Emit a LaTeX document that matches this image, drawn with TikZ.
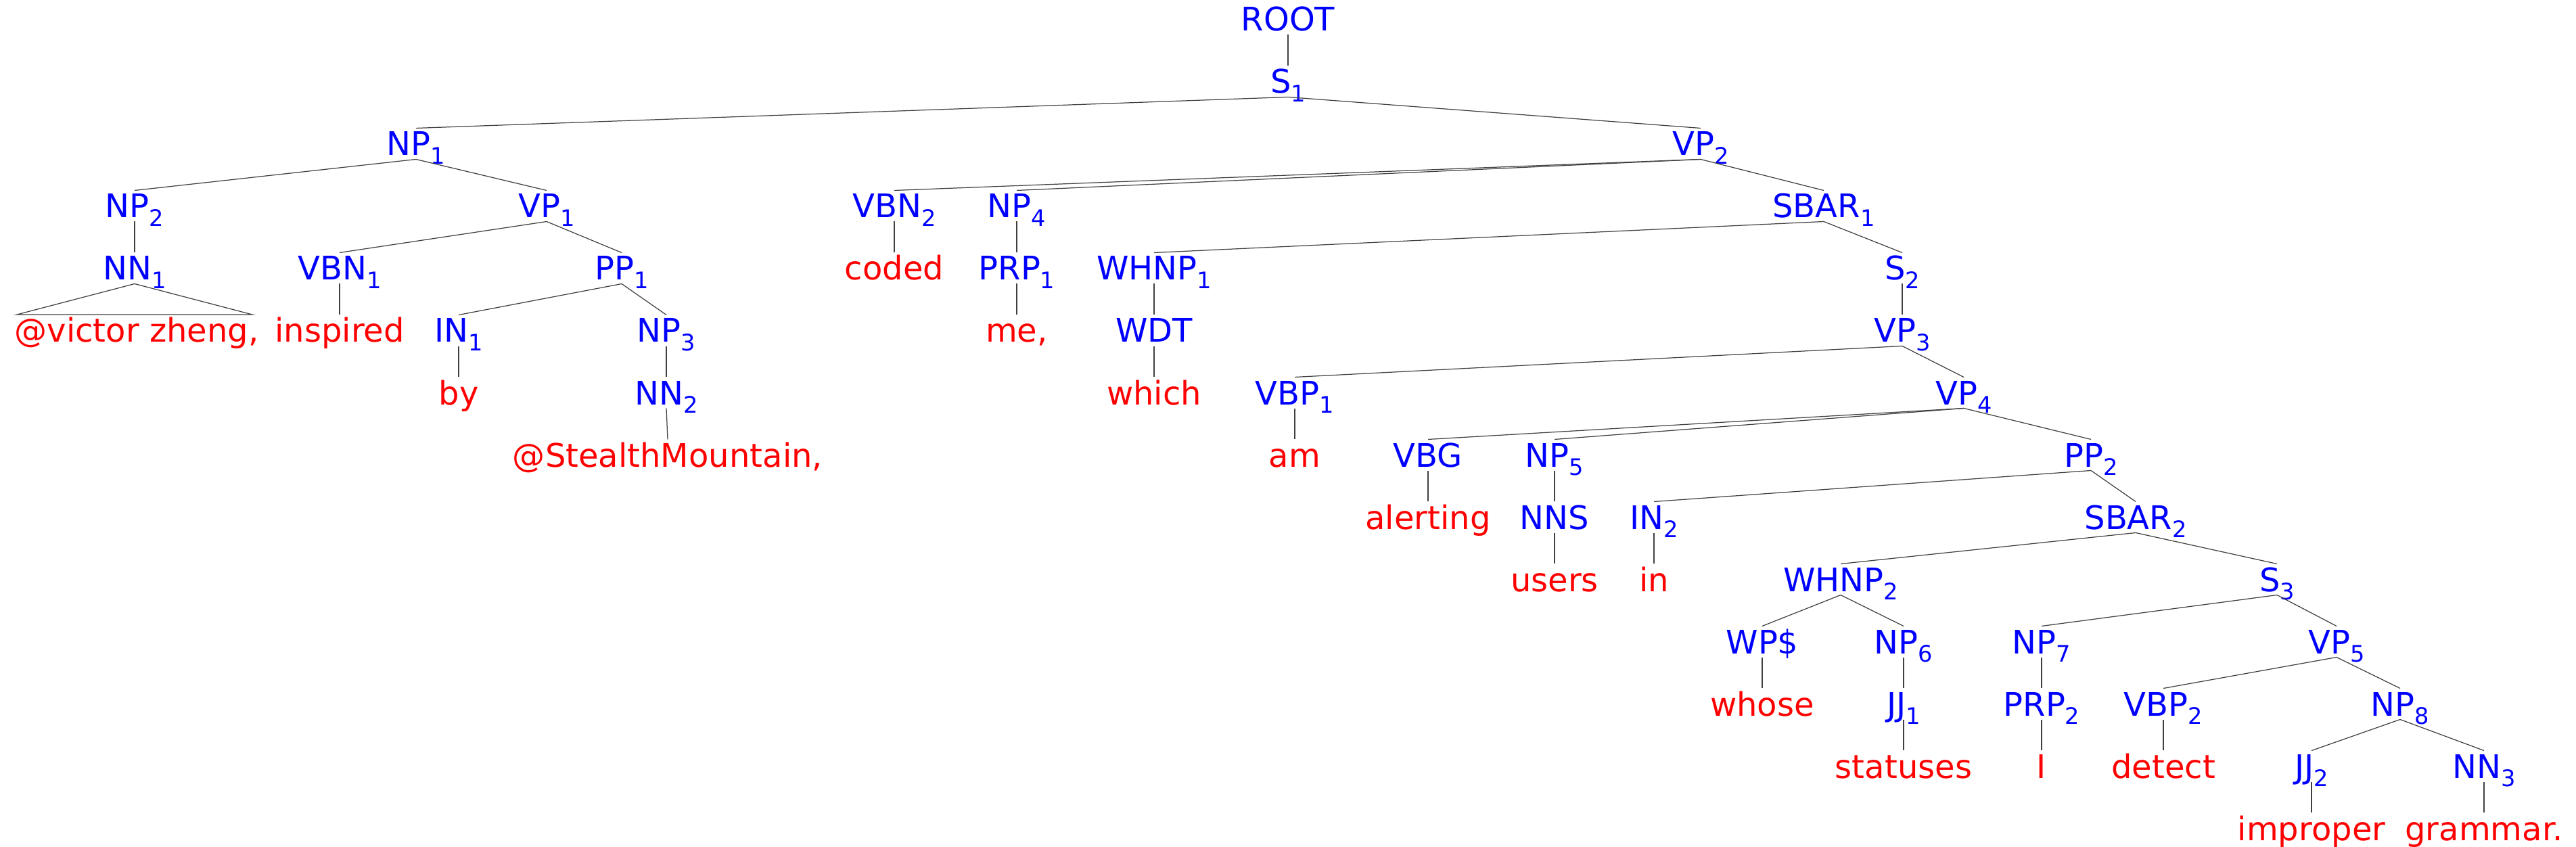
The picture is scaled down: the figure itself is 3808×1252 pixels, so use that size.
\documentclass[tikz,border=0pt]{standalone}
\usepackage{fontspec}
\setmainfont{DejaVu Sans}
\newcommand\subx[1]{\raisebox{-0.25em}{\fontsize{9.56pt}{10pt}\selectfont #1}}
\begin{document}
\begin{tikzpicture}[x=0.01cm,y=-0.01cm,
  lbl/.style={inner sep=0pt,outer xsep=0pt,outer ysep=0.055cm,text height=0.35cm,text depth=0pt,anchor=base,font=\fontsize{13.66pt}{16pt}\selectfont},
  cat/.style={lbl,text=blue},
  wrd/.style={lbl,text=red},
  edge/.style={draw=black!75,line width=0.35pt}]
\useasboundingbox (0,0) rectangle (3808,1252);
% level 0-2
\node[cat] (ROOT) at (1904,46) {ROOT};
\node[cat] (S1) at (1904,138) {S\subx{1}};
\node[cat] (NP1) at (615,230) {NP\subx{1}};
\node[cat] (VP2) at (2514,230) {VP\subx{2}};
% level 3
\node[cat] (NP2) at (199,322) {NP\subx{2}};
\node[cat] (VP1) at (808,322) {VP\subx{1}};
\node[cat] (VBN2) at (1322,322) {VBN\subx{2}};
\node[cat] (NP4) at (1503,322) {NP\subx{4}};
\node[cat] (SBAR1) at (2696,322) {SBAR\subx{1}};
% level 4
\node[cat] (NN1) at (199,414) {NN\subx{1}};
\node[cat] (VBN1) at (502,414) {VBN\subx{1}};
\node[cat] (PP1) at (919,414) {PP\subx{1}};
\node[wrd] (coded) at (1322,414) {coded};
\node[cat] (PRP1) at (1503,414) {PRP\subx{1}};
\node[cat] (WHNP1) at (1706,414) {WHNP\subx{1}};
\node[cat] (S2) at (2812,414) {S\subx{2}};
% level 5
\node[wrd] (victor) at (202,506) {@victor zheng,};
\node[wrd] (inspired) at (502,506) {inspired};
\node[cat] (IN1) at (678,506) {IN\subx{1}};
\node[cat] (NP3) at (985,506) {NP\subx{3}};
\node[wrd] (me) at (1503,506) {me,};
\node[cat] (WDT) at (1706,506) {WDT};
\node[cat] (VP3) at (2812,506) {VP\subx{3}};
% level 6
\node[wrd] (by) at (678,598) {by};
\node[cat] (NN2) at (985,598) {NN\subx{2}};
\node[wrd] (which) at (1706,598) {which};
\node[cat] (VBP1) at (1914,598) {VBP\subx{1}};
\node[cat] (VP4) at (2903,598) {VP\subx{4}};
% level 7
\node[wrd] (stealth) at (987,690) {@StealthMountain,};
\node[wrd] (am) at (1914,690) {am};
\node[cat] (VBG) at (2111,690) {VBG};
\node[cat] (NP5) at (2298,690) {NP\subx{5}};
\node[cat] (PP2) at (3091,690) {PP\subx{2}};
% level 8
\node[wrd] (alerting) at (2111,782) {alerting};
\node[cat] (NNS) at (2298,782) {NNS};
\node[cat] (IN2) at (2445,782) {IN\subx{2}};
\node[cat] (SBAR2) at (3157,782) {SBAR\subx{2}};
% level 9
\node[wrd] (users) at (2298,874) {users};
\node[wrd] (in) at (2445,874) {in};
\node[cat] (WHNP2) at (2721,874) {WHNP\subx{2}};
\node[cat] (S3) at (3366,874) {S\subx{3}};
% level 10
\node[cat] (WP) at (2605,966) {WP\$};
\node[cat] (NP6) at (2814,966) {NP\subx{6}};
\node[cat] (NP7) at (3018,966) {NP\subx{7}};
\node[cat] (VP5) at (3454,966) {VP\subx{5}};
% level 11
\node[wrd] (whose) at (2605,1058) {whose};
\node[cat] (JJ1) at (2814,1058) {JJ\subx{1}};
\node[cat] (PRP2) at (3018,1058) {PRP\subx{2}};
\node[cat] (VBP2) at (3198,1058) {VBP\subx{2}};
\node[cat] (NP8) at (3548,1058) {NP\subx{8}};
% level 12
\node[wrd] (statuses) at (2814,1150) {statuses};
\node[wrd] (I) at (3018,1150) {I};
\node[wrd] (detect) at (3198,1150) {detect};
\node[cat] (JJ2) at (3417,1150) {JJ\subx{2}};
\node[cat] (NN3) at (3672,1150) {NN\subx{3}};
% level 13
\node[wrd] (improper) at (3417,1242) {improper};
\node[wrd] (grammar) at (3672,1242) {grammar.};
% triangle corners
\coordinate (triL) at (25,465);
\coordinate (triR) at (373,465);
% edges
\foreach \p/\c in {ROOT/S1,S1/NP1,S1/VP2,NP1/NP2,NP1/VP1,NP2/NN1,VP1/VBN1,VP1/PP1,
  VBN1/inspired,PP1/IN1,PP1/NP3,IN1/by,NP3/NN2,NN2/stealth,VP2/VBN2,VP2/NP4,VP2/SBAR1,
  VBN2/coded,NP4/PRP1,PRP1/me,SBAR1/WHNP1,SBAR1/S2,WHNP1/WDT,WDT/which,S2/VP3,
  VP3/VBP1,VP3/VP4,VBP1/am,VP4/VBG,VP4/NP5,VP4/PP2,VBG/alerting,NP5/NNS,NNS/users,
  PP2/IN2,PP2/SBAR2,IN2/in,SBAR2/WHNP2,SBAR2/S3,WHNP2/WP,WHNP2/NP6,WP/whose,NP6/JJ1,
  JJ1/statuses,S3/NP7,S3/VP5,NP7/PRP2,PRP2/I,VP5/VBP2,VP5/NP8,VBP2/detect,NP8/JJ2,
  NP8/NN3,JJ2/improper,NN3/grammar}
  \draw[edge] (\p.south) -- (\c.north);
\draw[edge] (NN1.south) -- (triL) -- (triR) -- cycle;
\end{tikzpicture}
\end{document}
